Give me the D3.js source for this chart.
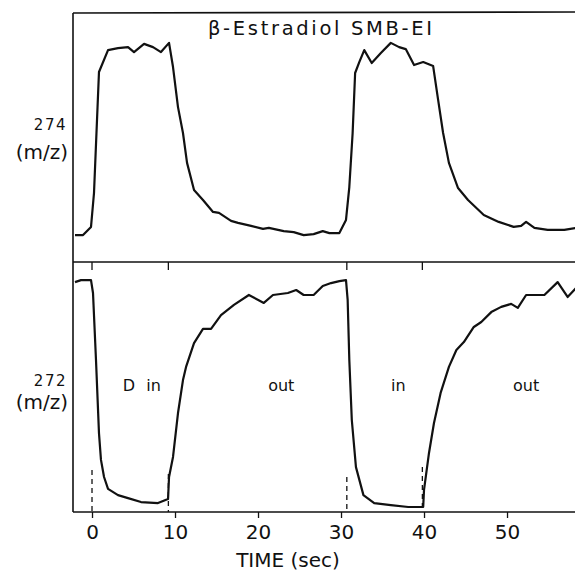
<!DOCTYPE html>
<html>
<head>
<meta charset="utf-8">
<script src="https://cdn.jsdelivr.net/npm/d3@7"></script>
<style>
  html, body { margin: 0; padding: 0; background: #fff; }
  svg { display: block; }
  text { font-family: "DejaVu Sans", sans-serif; fill: #111; }
</style>
</head>
<body>
<svg id="chart" width="575" height="571"></svg>
<script>
// ---- data ----
const xTicks = [0, 10, 20, 30, 40, 50];
const valveTimes = [0, 9.2, 30.7, 39.8];

const timeTop = [-2.05, -1.08, -0.12, 0.24, 0.84, 1.93, 3.13, 4.34, 5.06, 6.27, 7.35, 8.31, 9.28, 9.76,
  10.36, 10.96, 11.45, 12.29, 13.37, 14.58, 15.3, 16.75, 17.59, 19.16, 20.6, 21.3, 23.1, 24.3, 25.5,
  26.7, 27.8, 28.6, 29.8, 30.6, 31.0, 31.4, 31.7, 32.2, 32.8, 33.7, 34.8, 36.0, 37.0, 37.8, 38.8,
  39.9, 41.1, 41.7, 42.3, 43.0, 44.1, 45.3, 47.2, 49.0, 50.8, 51.7, 52.3, 53.3, 54.9, 56.9, 58.3];
const mz274 = [10.8, 10.8, 14.1, 27.7, 76.3, 85.1, 85.9, 86.3, 84.3, 87.6, 86.3, 84.3, 88.0, 78.3,
  62.2, 51.8, 39.8, 28.9, 24.9, 20.1, 19.7, 16.5, 15.7, 14.5, 13.3, 13.7, 12.4, 12.0, 10.8,
  11.2, 12.4, 11.6, 11.6, 16.9, 30.1, 51.8, 75.9, 80.3, 85.1, 79.9, 83.9, 88.0, 86.3, 85.5, 79.1,
  80.3, 78.7, 65.1, 51.8, 39.8, 29.7, 24.9, 18.9, 16.1, 14.1, 14.5, 16.1, 13.7, 12.9, 12.9, 13.7];

const timeBot = [-2.05, -1.33, -0.12, 0.12, 0.48, 0.84, 1.08, 1.45, 1.93, 3.13, 4.34, 5.9, 7.95, 9.16,
  9.28, 9.76, 10.36, 10.96, 11.33, 12.29, 13.37, 14.34, 15.54, 17.1, 18.9, 20.7, 21.8, 23.6, 24.6,
  25.5, 26.7, 27.8, 28.8, 29.8, 30.6, 30.8, 31.0, 31.3, 31.8, 32.7, 34.0, 36.0, 38.1, 39.9, 40.0,
  40.6, 41.2, 42.0, 43.0, 43.9, 44.8, 46.0, 46.9, 48.1, 49.3, 50.5, 51.3, 52.3, 54.5, 56.1, 57.3, 58.3];
const mz272 = [91.9, 92.7, 92.7, 87.5, 60.5, 31.0, 20.2, 13.3, 8.5, 6.0, 4.8, 3.2, 2.8, 4.4,
  13.3, 21.4, 39.1, 52.4, 57.7, 67.3, 73.0, 73.0, 78.6, 82.7, 86.7, 83.5, 86.7, 87.5, 88.7,
  86.7, 86.7, 90.3, 91.5, 92.3, 92.7, 84.7, 60.5, 36.3, 17.3, 6.0, 2.8, 2.0, 1.2, 1.2, 8.1,
  23.0, 35.1, 47.2, 57.7, 64.5, 67.7, 73.8, 75.8, 79.8, 81.9, 83.1, 81.5, 86.7, 86.7, 91.9, 85.9, 89.5];

const phaseLabels = ["D in", "out", "in", "out"];
const phaseTimes = [6.0, 22.8, 36.9, 52.3];

// ---- layout ----
const svg = d3.select("#chart");
const left = 73, right = 575;
const topY = 13, midY = 262, botY = 512;

const x = d3.scaleLinear().domain([-2.29, 58.19]).range([left, right]);
const yTop = d3.scaleLinear().domain([0, 100]).range([midY, topY]);
const yBot = d3.scaleLinear().domain([0, 100]).range([botY - 2, midY]);

// frame
const frame = svg.append("g").attr("stroke", "#111").attr("fill", "none");
frame.append("line").attr("x1", left).attr("x2", left).attr("y1", topY).attr("y2", botY).attr("stroke-width", 1.6);
frame.append("line").attr("x1", left).attr("x2", right).attr("y1", topY).attr("y2", topY - 1).attr("stroke-width", 1.6);
frame.append("line").attr("x1", left).attr("x2", right).attr("y1", midY).attr("y2", midY).attr("stroke-width", 1.6);

// ticks under separator
frame.selectAll(".sep").data(valveTimes).join("line")
  .attr("x1", d => x(d)).attr("x2", d => x(d))
  .attr("y1", midY).attr("y2", midY + 8).attr("stroke-width", 1.3);

// bottom axis
const ax = svg.append("g").attr("transform", `translate(0,${botY})`)
  .call(d3.axisBottom(x).tickValues(xTicks).tickSize(6).tickPadding(7).tickFormat(d3.format("d")));
ax.select(".domain").remove();
ax.append("line").attr("x1", left).attr("x2", right).attr("y1", 0).attr("y2", 0)
  .attr("stroke", "#111").attr("stroke-width", 1.6);
ax.selectAll(".tick line").attr("stroke", "#111").attr("stroke-width", 1.3);
ax.selectAll(".tick text").attr("fill", "#111").style("font-size", "20px")
  .style("font-family", "DejaVu Sans, sans-serif");

// dashed valve lines
svg.append("g").selectAll("line").data(valveTimes).join("line")
  .attr("x1", d => x(d)).attr("x2", d => x(d))
  .attr("y1", (d, i) => [470, 474, 477, 467][i]).attr("y2", botY)
  .attr("stroke", "#111").attr("stroke-width", 1.3).attr("stroke-dasharray", "5,4");

// curves
const lineTop = d3.line().x(d => x(d[0])).y(d => yTop(d[1]));
const lineBot = d3.line().x(d => x(d[0])).y(d => yBot(d[1]));
svg.append("path").datum(d3.zip(timeTop, mz274)).attr("d", lineTop)
  .attr("fill", "none").attr("stroke", "#111").attr("stroke-width", 2.2).attr("stroke-linejoin", "round");
svg.append("path").datum(d3.zip(timeBot, mz272)).attr("d", lineBot)
  .attr("fill", "none").attr("stroke", "#111").attr("stroke-width", 2.2).attr("stroke-linejoin", "round");

// texts
svg.append("text").attr("x", 320).attr("y", 35).attr("text-anchor", "middle")
  .attr("textLength", 224).attr("lengthAdjust", "spacing")
  .style("font-size", "19.5px").text("β-Estradiol SMB-EI");

svg.append("text").attr("x", 67).attr("y", 130).attr("text-anchor", "end")
  .style("font-size", "15px").style("letter-spacing", "1.5px").text("274");
svg.append("text").attr("x", 68).attr("y", 159).attr("text-anchor", "end")
  .style("font-size", "20px").text("(m/z)");
svg.append("text").attr("x", 67).attr("y", 386).attr("text-anchor", "end")
  .style("font-size", "15px").style("letter-spacing", "1.5px").text("272");
svg.append("text").attr("x", 68).attr("y", 409).attr("text-anchor", "end")
  .style("font-size", "20px").text("(m/z)");

svg.append("g").selectAll("text").data(phaseLabels).join("text")
  .attr("x", (d, i) => x(phaseTimes[i])).attr("y", 391).attr("text-anchor", "middle")
  .style("font-size", "16px").style("word-spacing", "6px").text(d => d);

svg.append("text").attr("x", 288).attr("y", 567).attr("text-anchor", "middle")
  .style("font-size", "20px").text("TIME (sec)");
</script>
</body>
</html>
